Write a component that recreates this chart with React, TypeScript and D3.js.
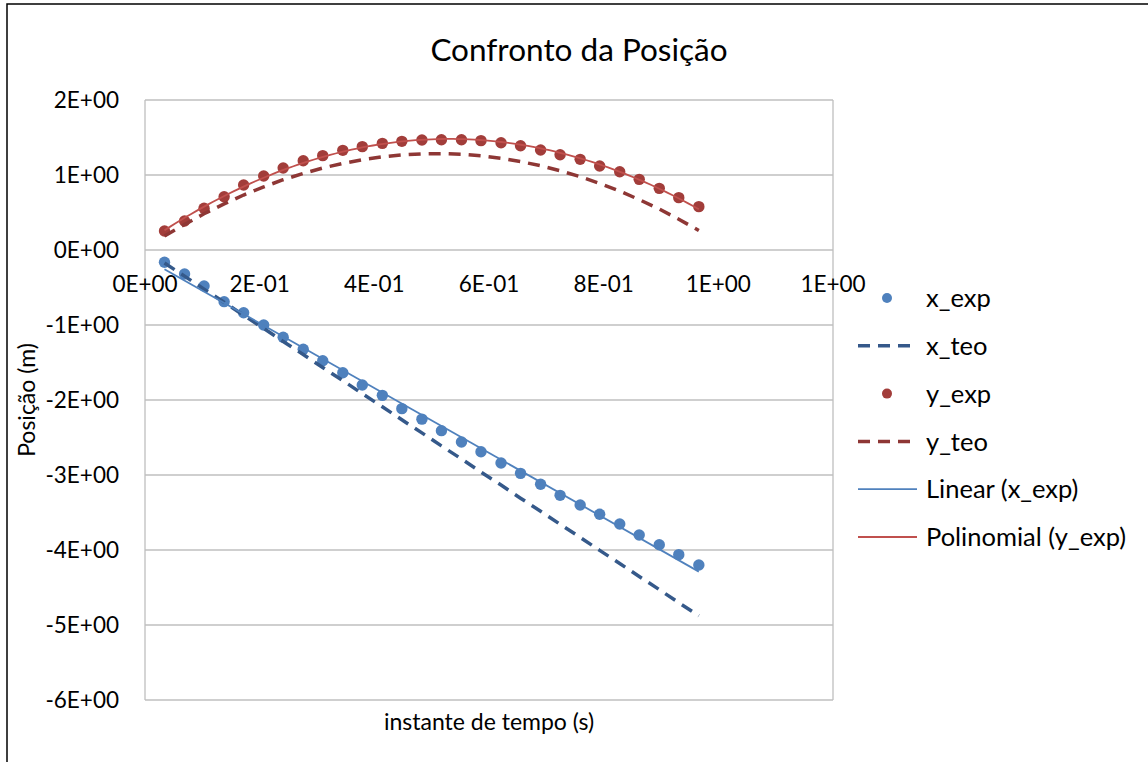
import { useEffect, useRef } from "react";
import * as d3 from "d3";

// instantes de tempo (s)
const tempo = [
  0.034, 0.069, 0.103, 0.138, 0.172, 0.207, 0.241, 0.276, 0.31, 0.345, 0.379, 0.414, 0.448, 0.483,
  0.517, 0.552, 0.586, 0.621, 0.655, 0.69, 0.724, 0.759, 0.793, 0.828, 0.862, 0.897, 0.931, 0.966,
];
const xExp = [
  -0.164, -0.32, -0.48, -0.689, -0.836, -1.0, -1.164, -1.324, -1.476, -1.636, -1.8, -1.938, -2.115, -2.255,
  -2.409, -2.56, -2.69, -2.84, -2.978, -3.124, -3.271, -3.4, -3.524, -3.653, -3.8, -3.929, -4.062, -4.2,
];
const xTeo = [
  -0.174, -0.348, -0.522, -0.697, -0.871, -1.045, -1.219, -1.393, -1.567, -1.741, -1.916, -2.09, -2.264, -2.438,
  -2.612, -2.786, -2.96, -3.134, -3.309, -3.483, -3.657, -3.831, -4.005, -4.179, -4.353, -4.528, -4.702, -4.876,
];
const yExp = [
  0.253, 0.387, 0.556, 0.711, 0.867, 0.987, 1.093, 1.191, 1.258, 1.329, 1.378, 1.422, 1.449, 1.467,
  1.471, 1.471, 1.458, 1.431, 1.391, 1.333, 1.271, 1.209, 1.12, 1.044, 0.942, 0.822, 0.698, 0.578,
];
const yTeo = [
  0.186, 0.34, 0.483, 0.614, 0.733, 0.841, 0.937, 1.021, 1.093, 1.155, 1.204, 1.242, 1.268, 1.282,
  1.285, 1.276, 1.256, 1.223, 1.179, 1.124, 1.057, 0.978, 0.887, 0.785, 0.672, 0.546, 0.41, 0.26,
];

const xTicks = [0, 0.2, 0.4, 0.6, 0.8, 1.0, 1.2];
const xTickLabels = ["0E+00", "2E-01", "4E-01", "6E-01", "8E-01", "1E+00", "1E+00"];
const yTicks = [2, 1, 0, -1, -2, -3, -4, -5, -6];
const yTickLabels = ["2E+00", "1E+00", "0E+00", "-1E+00", "-2E+00", "-3E+00", "-4E+00", "-5E+00", "-6E+00"];
const legendLabels = ["x_exp", "x_teo", "y_exp", "y_teo", "Linear (x_exp)", "Polinomial (y_exp)"];

const FONT = "Lato, 'Open Sans', sans-serif";
const BLUE = "#4F81BD";
const BLUE_DARK = "#35598A";
const RED = "#A23D3A";
const RED_DARK = "#8E3735";
const RED_TREND = "#C0504D";

// mínimos quadrados (linha de tendência do Excel)
function fitLinear(xs: number[], ys: number[]) {
  const mx = d3.mean(xs)!;
  const my = d3.mean(ys)!;
  const b = d3.sum(xs, (x, i) => (x - mx) * (ys[i] - my)) / d3.sum(xs, (x) => (x - mx) ** 2);
  const a = my - b * mx;
  return (t: number) => a + b * t;
}

function fitQuadratic(xs: number[], ys: number[]) {
  const s = (p: number) => d3.sum(xs, (x) => x ** p);
  const sy = (p: number) => d3.sum(xs, (x, i) => x ** p * ys[i]);
  const m = [
    [s(0), s(1), s(2), sy(0)],
    [s(1), s(2), s(3), sy(1)],
    [s(2), s(3), s(4), sy(2)],
  ];
  for (let c = 0; c < 3; c++) {
    for (let r = c + 1; r < 3; r++) {
      const f = m[r][c] / m[c][c];
      for (let k = c; k < 4; k++) m[r][k] -= f * m[c][k];
    }
  }
  const co = [0, 0, 0];
  for (let r = 2; r >= 0; r--) {
    let v = m[r][3];
    for (let k = r + 1; k < 3; k++) v -= m[r][k] * co[k];
    co[r] = v / m[r][r];
  }
  return (t: number) => co[0] + co[1] * t + co[2] * t * t;
}

export default function App() {
  const ref = useRef<HTMLDivElement>(null);

  useEffect(() => {
    const el = ref.current;
    d3.select(el).selectAll("*").remove();

    const width = 1148;
    const height = 762;
    const plot = { left: 145, right: 833, top: 100, bottom: 700 };

    const svg = d3.select(el).append("svg")
      .attr("width", width).attr("height", height)
      .style("position", "absolute").style("left", 0).style("top", 0)
      .style("background", "#fff");

    svg.append("rect").attr("x", 7).attr("y", 4).attr("width", 1200).attr("height", 800)
      .attr("fill", "#fff").attr("stroke", "#000").attr("stroke-width", 1.5);

    const x = d3.scaleLinear().domain([0, 1.2]).range([plot.left, plot.right]);
    const y = d3.scaleLinear().domain([-6, 2]).range([plot.bottom, plot.top]);

    // grelha
    svg.append("g").selectAll("line").data(yTicks).join("line")
      .attr("x1", plot.left).attr("x2", plot.right)
      .attr("y1", (d) => y(d)).attr("y2", (d) => y(d))
      .attr("stroke", "#BFBFBF").attr("stroke-width", 1.3);
    svg.append("line").attr("x1", plot.left).attr("x2", plot.left).attr("y1", plot.top).attr("y2", plot.bottom)
      .attr("stroke", "#BFBFBF").attr("stroke-width", 1.3);
    svg.append("line").attr("x1", plot.right).attr("x2", plot.right).attr("y1", plot.top).attr("y2", plot.bottom)
      .attr("stroke", "#BFBFBF").attr("stroke-width", 1.3);

    // rótulos dos eixos
    svg.append("g").selectAll("text").data(yTicks).join("text")
      .attr("x", 119).attr("y", (d) => y(d)).attr("dy", "0.36em")
      .attr("text-anchor", "end").attr("font-family", FONT).attr("font-size", 22.5).attr("fill", "#000")
      .text((d, i) => yTickLabels[i]);
    svg.append("g").selectAll("text").data(xTicks).join("text")
      .attr("x", (d) => x(d)).attr("y", y(0) + 34).attr("dy", "0.36em")
      .attr("text-anchor", "middle").attr("font-family", FONT).attr("font-size", 22.5).attr("fill", "#000")
      .text((d, i) => xTickLabels[i]);

    svg.append("text").attr("x", 579).attr("y", 50).attr("dy", "0.36em").attr("text-anchor", "middle")
      .attr("font-family", FONT).attr("font-size", 31.5).attr("fill", "#000").text("Confronto da Posição");
    svg.append("text").attr("x", (plot.left + plot.right) / 2).attr("y", 722).attr("dy", "0.36em")
      .attr("text-anchor", "middle").attr("font-family", FONT).attr("font-size", 23).attr("fill", "#000")
      .text("instante de tempo (s)");
    svg.append("text").attr("transform", `translate(27,${(plot.top + plot.bottom) / 2}) rotate(-90)`)
      .attr("dy", "0.36em").attr("text-anchor", "middle")
      .attr("font-family", FONT).attr("font-size", 23).attr("fill", "#000").text("Posição (m)");

    const pts = (vals: number[]) => tempo.map((t, i) => [t, vals[i]] as [number, number]);
    const line = d3.line<[number, number]>().x((d) => x(d[0])).y((d) => y(d[1]));

    // x_exp
    svg.append("g").selectAll("circle").data(pts(xExp)).join("circle")
      .attr("cx", (d) => x(d[0])).attr("cy", (d) => y(d[1])).attr("r", 5.7).attr("fill", BLUE);
    // x_teo
    svg.append("path").datum(pts(xTeo)).attr("fill", "none").attr("stroke", BLUE_DARK)
      .attr("stroke-width", 3.5).attr("stroke-dasharray", "12,8").attr("d", line);
    // y_exp
    svg.append("g").selectAll("circle").data(pts(yExp)).join("circle")
      .attr("cx", (d) => x(d[0])).attr("cy", (d) => y(d[1])).attr("r", 5.7).attr("fill", RED);
    // y_teo
    svg.append("path").datum(pts(yTeo)).attr("fill", "none").attr("stroke", RED_DARK)
      .attr("stroke-width", 3.5).attr("stroke-dasharray", "12,8").attr("d", line);

    // linhas de tendência
    const t0 = d3.min(tempo)!;
    const t1 = d3.max(tempo)!;
    const lin = fitLinear(tempo, xExp);
    svg.append("path").datum([[t0, lin(t0)], [t1, lin(t1)]] as [number, number][])
      .attr("fill", "none").attr("stroke", BLUE).attr("stroke-width", 1.8).attr("d", line);
    const quad = fitQuadratic(tempo, yExp);
    const tt = d3.range(0, 101).map((k) => t0 + ((t1 - t0) * k) / 100);
    svg.append("path").datum(tt.map((t) => [t, quad(t)] as [number, number]))
      .attr("fill", "none").attr("stroke", RED_TREND).attr("stroke-width", 1.8).attr("d", line);

    // legenda
    const lg = svg.append("g").attr("font-family", FONT).attr("font-size", 25.5);
    legendLabels.forEach((label, i) => {
      const cy = 298 + i * 47.8;
      const row = lg.append("g");
      if (i === 0 || i === 2) {
        row.append("circle").attr("cx", 887).attr("cy", cy).attr("r", 5).attr("fill", i === 0 ? BLUE : RED);
      } else if (i === 1 || i === 3) {
        row.append("line").attr("x1", 858).attr("x2", 917).attr("y1", cy).attr("y2", cy)
          .attr("stroke", i === 1 ? BLUE_DARK : RED_DARK).attr("stroke-width", 3.5).attr("stroke-dasharray", "12,8");
      } else {
        row.append("line").attr("x1", 858).attr("x2", 917).attr("y1", cy).attr("y2", cy)
          .attr("stroke", i === 4 ? BLUE : RED_TREND).attr("stroke-width", 1.8);
      }
      row.append("text").attr("x", 926).attr("y", cy).attr("dy", "0.36em").attr("fill", "#000").text(label);
    });
  }, []);

  return <div ref={ref} />;
}
